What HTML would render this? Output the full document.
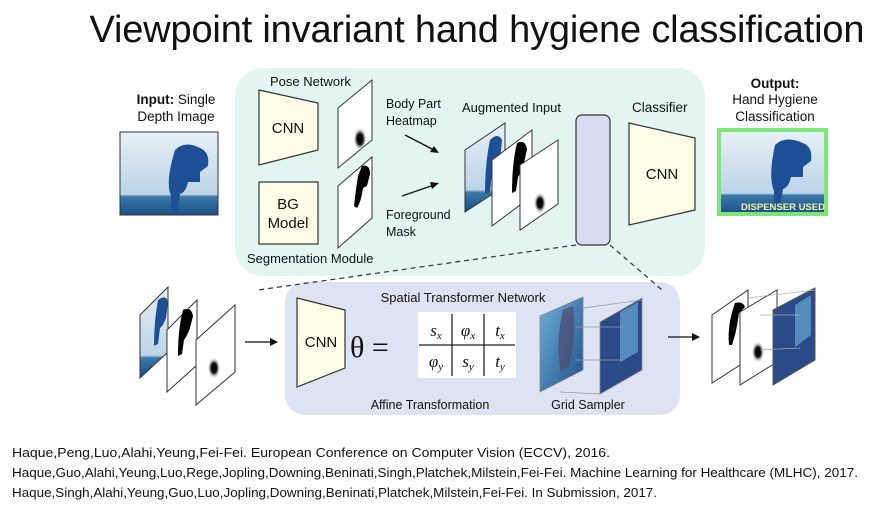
<!DOCTYPE html>
<html><head><meta charset="utf-8"><style>
html,body{margin:0;padding:0;background:#fff;}
svg{display:block;font-family:"Liberation Sans",sans-serif;}
</style></head><body>
<svg width="894" height="511" viewBox="0 0 894 511" xmlns="http://www.w3.org/2000/svg">
<defs>
<radialGradient id="blob" cx="50%" cy="50%" r="50%"><stop offset="0" stop-color="#000"/><stop offset="0.45" stop-color="#111"/><stop offset="1" stop-color="#fff" stop-opacity="0"/></radialGradient>
<linearGradient id="depth" x1="0" y1="0" x2="0" y2="1"><stop offset="0" stop-color="#e8f0f6"/><stop offset="0.75" stop-color="#bcd4e6"/><stop offset="0.78" stop-color="#3a78a8"/><stop offset="1" stop-color="#1c4f86"/></linearGradient>
<linearGradient id="depth2" x1="0" y1="0" x2="1" y2="1"><stop offset="0" stop-color="#6fb3d6"/><stop offset="1" stop-color="#1f4d8a"/></linearGradient>
</defs>
<text x="477" y="42" font-size="38" text-anchor="middle" fill="#111" textLength="775">Viewpoint invariant hand hygiene classification</text>

<rect x="235" y="68" width="470" height="208" rx="28" fill="#e3f5f0"/>
<rect x="285" y="282" width="395" height="133" rx="20" fill="#dde3f2"/>

<text x="176" y="104" font-size="13.5" text-anchor="middle" fill="#111"><tspan font-weight="bold">Input:</tspan> Single</text>
<text x="176" y="121" font-size="13.5" text-anchor="middle" fill="#111">Depth Image</text>
<rect x="120" y="132" width="98" height="83" fill="url(#depth)" stroke="#333" stroke-width="1"/>
<path d="M175 150 q10 -10 25 -2 q10 4 8 18 l-8 6 0 10 -12 0 q-2 10 -8 12 l-3 18 -6 0 0 -16 q-6 -14 4 -46z" fill="#1e4f96"/>

<text x="270" y="86" font-size="13" fill="#111">Pose Network</text>
<polygon points="259,90 318,103 318,150 259,165" fill="#fdfde8" stroke="#333" stroke-width="1.2"/>
<text x="288" y="133" font-size="15" text-anchor="middle" fill="#111">CNN</text>
<rect x="259" y="182" width="59" height="62" fill="#fdfde8" stroke="#333" stroke-width="1.2"/>
<text x="288" y="209" font-size="15" text-anchor="middle" fill="#111">BG</text>
<text x="288" y="228" font-size="15" text-anchor="middle" fill="#111">Model</text>
<text x="247" y="263" font-size="13" fill="#111">Segmentation Module</text>

<polygon points="338,108 372,80 372,140 338,168" fill="#fff" stroke="#333" stroke-width="1"/>
<ellipse cx="360" cy="139" rx="7" ry="12" fill="url(#blob)"/>
<polygon points="338,186 372,157 372,218 338,248" fill="#fff" stroke="#333" stroke-width="1"/>
<path d="M362 166 q8 -2 8 8 l-3 12 -4 2 q-2 14 -6 20 l-3 -2 q2 -18 4 -30z" fill="#000"/>

<text x="386" y="108" font-size="12.5" fill="#111">Body Part</text>
<text x="386" y="125" font-size="12.5" fill="#111">Heatmap</text>
<text x="386" y="219" font-size="12.5" fill="#111">Foreground</text>
<text x="386" y="236" font-size="12.5" fill="#111">Mask</text>
<line x1="405" y1="135" x2="434" y2="150" stroke="#111" stroke-width="1.3"/><polygon points="439,153 430,152 434,146" fill="#111"/>
<line x1="402" y1="196" x2="434" y2="185" stroke="#111" stroke-width="1.3"/><polygon points="439,183 432,189 430,182" fill="#111"/>

<text x="462" y="112" font-size="13" fill="#111">Augmented Input</text>
<polygon points="465,150 505,123 505,186 465,212" fill="url(#depth)" stroke="#333"/>
<path d="M490 140 q8 -8 12 0 l-2 20 q-3 10 -8 12 l-2 20 -5 2 q0 -30 5 -54z" fill="#1e4f96"/>
<polygon points="492,160 532,130 532,196 492,226" fill="#fff" stroke="#333"/>
<path d="M517 143 q8 -4 10 6 l-3 14 q-3 10 -6 14 l-2 14 -4 2 q0 -30 5 -50z" fill="#000"/>
<polygon points="520,165 558,140 558,204 520,230" fill="#fff" stroke="#333"/>
<ellipse cx="540" cy="203" rx="6.5" ry="11" fill="url(#blob)"/>

<rect x="576" y="115" width="34" height="130" rx="6" fill="#d7dcf0" stroke="#333" stroke-width="1.2"/>
<text x="632" y="112" font-size="13.5" fill="#111">Classifier</text>
<polygon points="629,123 695,138 695,210 629,225" fill="#fdfde8" stroke="#333" stroke-width="1.2"/>
<text x="662" y="179" font-size="15" text-anchor="middle" fill="#111">CNN</text>

<text x="775" y="88" font-size="13.5" font-weight="bold" text-anchor="middle" fill="#111">Output:</text>
<text x="775" y="104" font-size="13.5" text-anchor="middle" fill="#111">Hand Hygiene</text>
<text x="775" y="121" font-size="13.5" text-anchor="middle" fill="#111">Classification</text>
<rect x="719" y="130" width="107" height="84" fill="url(#depth)" stroke="#7de57a" stroke-width="4"/>
<path d="M775 145 q10 -10 28 -2 q10 4 8 18 l-8 6 0 10 -12 0 q-2 10 -8 12 l-3 18 -6 0 0 -16 q-6 -14 1 -46z" fill="#1e4f96"/>
<text x="783" y="210" font-size="9.5" font-weight="bold" text-anchor="middle" fill="#f4f4a0">DISPENSER USED</text>

<line x1="576" y1="245" x2="258" y2="290" stroke="#333" stroke-dasharray="5,4" stroke-width="1.2"/>
<line x1="610" y1="245" x2="662" y2="290" stroke="#333" stroke-dasharray="5,4" stroke-width="1.2"/>

<polygon points="140,315 168,287 168,352 140,378" fill="url(#depth)" stroke="#333"/>
<path d="M158 300 q8 -6 10 2 l-2 16 q-3 8 -6 10 l-2 16 -4 2 q0 -25 4 -46z" fill="#1e4f96"/>
<polygon points="167,330 197,300 197,365 167,392" fill="#fff" stroke="#333"/>
<path d="M183 310 q8 -4 10 6 l-3 12 q-3 8 -6 12 l-2 14 -4 2 q0 -28 5 -46z" fill="#000"/>
<polygon points="196,340 235,305 235,372 196,405" fill="#fff" stroke="#333"/>
<ellipse cx="214" cy="368" rx="6.5" ry="11" fill="url(#blob)"/>
<line x1="245" y1="342" x2="272" y2="342" stroke="#111" stroke-width="1.3"/><polygon points="278,342 270,338 270,346" fill="#111"/>

<text x="463" y="302" font-size="13" text-anchor="middle" fill="#111">Spatial Transformer Network</text>
<polygon points="297,298 345,310 345,368 297,387" fill="#fdfde8" stroke="#333" stroke-width="1.2"/>
<text x="321" y="347" font-size="15" text-anchor="middle" fill="#111">CNN</text>
<text x="350" y="357" font-size="30" fill="#111" font-family="Liberation Serif,serif">θ =</text>
<rect x="418" y="312" width="98" height="66" fill="#fff"/>
<line x1="419" y1="345" x2="515" y2="345" stroke="#222" stroke-width="1.3"/>
<line x1="452" y1="314" x2="452" y2="376" stroke="#222" stroke-width="1.3"/>
<line x1="484" y1="314" x2="484" y2="376" stroke="#222" stroke-width="1.3"/>
<g font-family="Liberation Serif,serif" font-style="italic" font-size="17" fill="#111" text-anchor="middle">
<text x="436" y="336">s<tspan font-size="11" dy="3">x</tspan></text>
<text x="468" y="336">φ<tspan font-size="11" dy="3">x</tspan></text>
<text x="500" y="336">t<tspan font-size="11" dy="3">x</tspan></text>
<text x="436" y="367">φ<tspan font-size="11" dy="3">y</tspan></text>
<text x="468" y="367">s<tspan font-size="11" dy="3">y</tspan></text>
<text x="500" y="367">t<tspan font-size="11" dy="3">y</tspan></text>
</g>
<text x="430" y="409" font-size="12.5" text-anchor="middle" fill="#111">Affine Transformation</text>
<text x="588" y="409" font-size="12.5" text-anchor="middle" fill="#111">Grid Sampler</text>
<polygon points="540,316 583,297 583,370 540,392" fill="url(#depth2)" stroke="#888" stroke-width="0.8"/>
<path d="M563 310 l10 -4 q4 30 -4 60 l-8 6 q-6 -30 2 -62z" fill="#4a4a70" opacity="0.7"/>
<polygon points="600,322 642,298 642,370 600,394" fill="#2a4a8a" stroke="#888" stroke-width="0.8"/>
<path d="M620 312 l18 -10 0 50 -18 10z" fill="#6aa6d4" opacity="0.7"/>
<g stroke="#999" stroke-width="0.7"><line x1="583" y1="308" x2="642" y2="300"/><line x1="575" y1="327" x2="625" y2="327"/><line x1="575" y1="360" x2="625" y2="360"/><line x1="560" y1="392" x2="600" y2="394"/></g>
<line x1="668" y1="337" x2="694" y2="337" stroke="#111" stroke-width="1.3"/><polygon points="700,337 692,333 692,341" fill="#111"/>

<polygon points="712,315 748,290 748,360 712,383" fill="#fff" stroke="#333"/>
<path d="M735 303 q8 -2 10 4 l-6 6 q-2 14 -4 22 l-3 10 -3 0 q-2 -20 6 -42z" fill="#000"/>
<polygon points="740,312 777,290 777,362 740,385" fill="#fff" stroke="#333"/>
<ellipse cx="758" cy="352" rx="6.5" ry="11" fill="url(#blob)"/>
<polygon points="773,310 815,288 815,360 773,385" fill="#2a4a8a" stroke="#555"/>
<path d="M795 305 l16 -10 0 40 -16 12z" fill="#6aa6d4" opacity="0.7"/>
<g stroke="#aaa" stroke-width="0.7"><line x1="748" y1="298" x2="815" y2="290"/><line x1="760" y1="315" x2="800" y2="315"/><line x1="760" y1="350" x2="800" y2="348"/></g>

<g font-size="12.5" fill="#111">
<text x="12" y="457" textLength="598" lengthAdjust="spacingAndGlyphs">Haque,Peng,Luo,Alahi,Yeung,Fei-Fei. European Conference on Computer Vision (ECCV), 2016.</text>
<text x="12" y="477" textLength="846" lengthAdjust="spacingAndGlyphs">Haque,Guo,Alahi,Yeung,Luo,Rege,Jopling,Downing,Beninati,Singh,Platchek,Milstein,Fei-Fei. Machine Learning for Healthcare (MLHC), 2017.</text>
<text x="12" y="497" textLength="645" lengthAdjust="spacingAndGlyphs">Haque,Singh,Alahi,Yeung,Guo,Luo,Jopling,Downing,Beninati,Platchek,Milstein,Fei-Fei. In Submission, 2017.</text>
</g>
</svg>
</body></html>
